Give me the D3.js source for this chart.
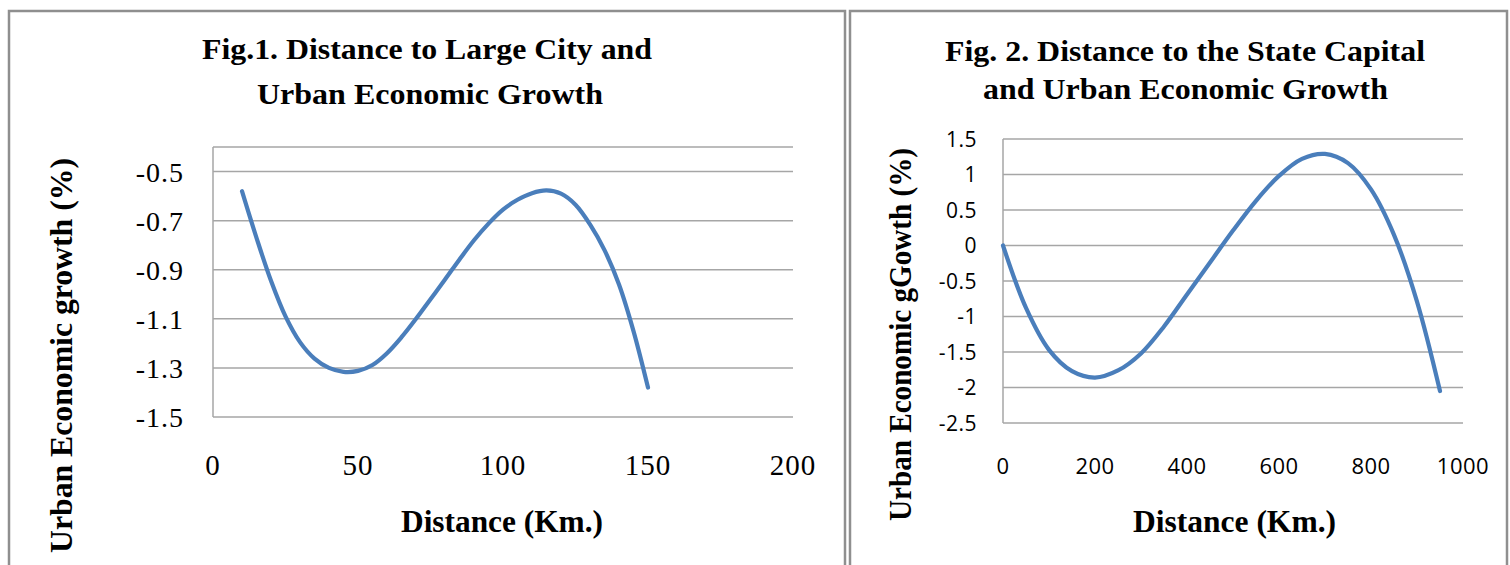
<!DOCTYPE html>
<html><head><meta charset="utf-8">
<script src="https://cdn.jsdelivr.net/npm/d3@7"></script>
<style>html,body{margin:0;padding:0;background:#fff;}svg{display:block;}</style>
</head><body>
<svg id="c" width="1510" height="565"></svg>
<script>
// ---------- DATA ----------
const fig1Title = ["Fig.1. Distance to Large City and", "Urban Economic Growth"];
const fig1XLabel = "Distance (Km.)";
const fig1YLabel = "Urban Economic growth (%)";
const fig1Distance = [10,15,20,25,30,35,40,45,50,55,60,65,70,75,80,85,90,95,100,105,110,115,120,125,130,135,140,145,150];
const fig1Growth = [-0.58,-0.77,-0.945,-1.09,-1.195,-1.262,-1.30,-1.316,-1.312,-1.288,-1.24,-1.175,-1.10,-1.02,-0.94,-0.858,-0.78,-0.712,-0.655,-0.615,-0.588,-0.577,-0.59,-0.635,-0.715,-0.82,-0.96,-1.15,-1.38];
const fig1XTicks = [0,50,100,150,200];
const fig1YTicks = [-1.5,-1.3,-1.1,-0.9,-0.7,-0.5];
const fig1YTickLabels = ["-1.5","-1.3","-1.1","-0.9","-0.7","-0.5"];

const fig2Title = ["Fig. 2. Distance to the State Capital", "and Urban Economic Growth"];
const fig2XLabel = "Distance (Km.)";
const fig2YLabel = "Urban Economic gGowth (%)";
const fig2Distance = [0,50,100,150,200,250,300,350,400,450,500,550,600,650,700,750,800,850,900,950];
const fig2Growth = [0,-0.88,-1.47,-1.77,-1.86,-1.76,-1.52,-1.14,-0.69,-0.24,0.21,0.63,0.98,1.22,1.29,1.16,0.79,0.15,-0.79,-2.05];
const fig2XTicks = [0,200,400,600,800,1000];
const fig2YTicks = [-2.5,-2,-1.5,-1,-0.5,0,0.5,1,1.5];
const fig2YTickLabels = ["-2.5","-2","-1.5","-1","-0.5","0","0.5","1","1.5"];

// ---------- DRAW ----------
const svg = d3.select("#c");
const serif = "'Liberation Serif','Times New Roman',serif";
const sans = "'Open Sans','Noto Sans',sans-serif";
const gridColor = "#a6a6a6";
const lineColor = "#4a7ebb";

function fit(sel, w) {
  sel.attr("textLength", w).attr("lengthAdjust", "spacingAndGlyphs");
}

// panel borders
svg.append("rect").attr("x",9).attr("y",11).attr("width",836).attr("height",600)
  .attr("fill","none").attr("stroke","#8f8f8f").attr("stroke-width",2.5);
svg.append("rect").attr("x",850).attr("y",11).attr("width",657).attr("height",600)
  .attr("fill","none").attr("stroke","#8f8f8f").attr("stroke-width",2.5);

function chart(o) {
  const g = svg.append("g");
  const x = d3.scaleLinear().domain(o.xDomain).range([o.left, o.right]);
  const y = d3.scaleLinear().domain(o.yDomain).range([o.bottom, o.top]);

  const gridVals = o.yTicks.slice();
  if (o.extraTop !== undefined) gridVals.push(o.extraTop);
  g.selectAll("line.grid").data(gridVals).join("line")
    .attr("x1", o.left).attr("x2", o.right)
    .attr("y1", d => y(d)).attr("y2", d => y(d))
    .attr("stroke", gridColor).attr("stroke-width", 1.5);
  g.append("line").attr("x1", o.left).attr("x2", o.left)
    .attr("y1", y(o.yDomain[1])).attr("y2", y(o.yDomain[0]))
    .attr("stroke", gridColor).attr("stroke-width", 1.5);

  g.selectAll("text.yt").data(o.yTicks).join("text")
    .attr("x", o.yLabelRight).attr("y", d => y(d))
    .attr("dy", "0.36em")
    .attr("text-anchor", "end")
    .attr("font-family", o.tickFont).attr("font-size", o.yTickSize)
    .attr("letter-spacing", o.tickSpacing)
    .attr("fill", "#000")
    .text((d,i) => o.yTickLabels[i]);

  g.selectAll("text.xt").data(o.xTicks).join("text")
    .attr("x", d => x(d)).attr("y", o.xTickBase)
    .attr("text-anchor", "middle")
    .attr("font-family", o.tickFont).attr("font-size", o.xTickSize)
    .attr("letter-spacing", o.tickSpacing)
    .attr("fill", "#000")
    .text(d => d);

  const line = d3.line().x(d => x(d[0])).y(d => y(d[1])).curve(d3.curveCatmullRom.alpha(0.5));
  g.append("path").datum(o.xs.map((d,i) => [d, o.ys[i]]))
    .attr("d", line).attr("fill","none")
    .attr("stroke", lineColor).attr("stroke-width", 4.2)
    .attr("stroke-linecap","round").attr("stroke-linejoin","round");

  o.title.forEach((t,i) => {
    g.append("text").attr("x", o.titleX[i]).attr("y", o.titleBase[i])
      .attr("font-family", serif).attr("font-weight","bold").attr("font-size", 29)
      .attr("fill","#000").text(t).call(fit, o.titleW[i]);
  });
  g.append("text").attr("x", o.xTitleX).attr("y", o.xTitleBase)
    .attr("font-family", serif).attr("font-weight","bold").attr("font-size", 31)
    .attr("fill","#000").text(o.xLabel).call(fit, o.xTitleW);
  g.append("text")
    .attr("transform", `translate(${o.yTitleBaseX},${o.yTitleBottom}) rotate(-90)`)
    .attr("font-family", serif).attr("font-weight","bold").attr("font-size", 31)
    .attr("fill","#000").text(o.yLabel).call(fit, o.yTitleW);
}

chart({
  xDomain:[0,200], yDomain:[-1.5,-0.4], left:213, right:793, top:147, bottom:417,
  yTicks:fig1YTicks, yTickLabels:fig1YTickLabels, xTicks:fig1XTicks, extraTop:-0.4,
  yLabelRight:184, xTickBase:475, tickFont:serif, yTickSize:28, xTickSize:29, tickSpacing:1,
  xs:fig1Distance, ys:fig1Growth,
  title:fig1Title, titleX:[202,257], titleBase:[59,104], titleW:[450,346],
  xLabel:fig1XLabel, xTitleX:401, xTitleBase:532, xTitleW:202,
  yLabel:fig1YLabel, yTitleBaseX:72, yTitleBottom:553, yTitleW:395
});

chart({
  xDomain:[0,1000], yDomain:[-2.5,1.5], left:1003, right:1463, top:139, bottom:423,
  yTicks:fig2YTicks, yTickLabels:fig2YTickLabels, xTicks:fig2XTicks,
  yLabelRight:977, xTickBase:474, tickFont:sans, yTickSize:21, xTickSize:22, tickSpacing:0.5,
  xs:fig2Distance, ys:fig2Growth,
  title:fig2Title, titleX:[945,983], titleBase:[61,99], titleW:[480,405],
  xLabel:fig2XLabel, xTitleX:1133, xTitleBase:532, xTitleW:203,
  yLabel:fig2YLabel, yTitleBaseX:911, yTitleBottom:521, yTitleW:373
});
</script>
</body></html>
